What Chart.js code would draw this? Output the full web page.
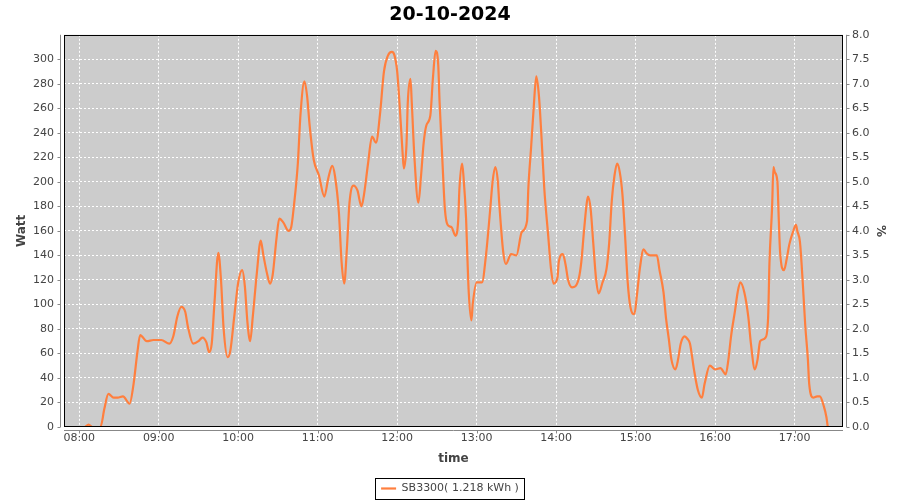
<!DOCTYPE html>
<html>
<head>
<meta charset="utf-8">
<script src="https://cdn.jsdelivr.net/npm/chart.js@4.4.1/dist/chart.umd.min.js"></script>
<style>
  html, body { margin: 0; padding: 0; background: #ffffff; }
  #wrap { width: 900px; height: 500px; }
</style>
</head>
<body>
<div id="wrap"><canvas id="c" width="900" height="500"></canvas></div>
<script>
const chartTitle = '20-10-2024';
const seriesLabel = 'SB3300( 1.218 kWh )';

const times = [
 '08:00','08:04','08:07','08:10','08:16','08:19','08:22','08:26','08:29','08:33','08:38','08:41','08:44','08:46','08:51','08:56',
 '09:02','09:08','09:11','09:14','09:17','09:20','09:22','09:26','09:30','09:33','09:36','09:38','09:40','09:42','09:45','09:47','09:49','09:52','09:54','09:57',
 '10:00','10:03','10:05','10:07','10:09','10:11','10:14','10:17','10:19','10:22','10:24','10:26','10:29','10:31','10:34','10:38','10:40','10:42','10:45','10:47','10:50','10:52','10:54','10:57',
 '11:01','11:05','11:08','11:11','11:13','11:16','11:18','11:20','11:22','11:24','11:27','11:30','11:33','11:35','11:38','11:41','11:44','11:47','11:50','11:53','11:56','11:58',
 '12:00','12:02','12:04','12:05','12:07','12:08','12:10','12:11','12:13','12:16','12:18','12:20','12:22','12:25','12:27','12:29','12:31','12:32','12:34','12:36','12:38','12:41','12:44','12:46','12:47','12:49','12:50','12:52','12:53','12:54','12:56','12:57',
 '13:00','13:04','13:07','13:10','13:12','13:14','13:16','13:17','13:20','13:22','13:26','13:30','13:34','13:38','13:39','13:41','13:43','13:45','13:47','13:49','13:51','13:54','13:56','13:58',
 '14:01','14:02','14:05','14:07','14:09','14:12','14:17','14:19','14:21','14:23','14:24','14:26','14:28','14:30','14:32','14:35','14:38','14:40','14:42','14:44','14:46','14:48','14:50','14:52','14:54','14:56','14:59',
 '15:01','15:03','15:06','15:08','15:11','15:16','15:18','15:21','15:23','15:25','15:27','15:30','15:32','15:34','15:37','15:39','15:41','15:44','15:47','15:50','15:52','15:56',
 '16:00','16:04','16:08','16:10','16:12','16:15','16:17','16:19','16:22','16:25','16:27','16:30','16:32','16:34','16:38','16:40','16:41','16:43','16:44','16:45','16:47','16:48','16:49','16:52','16:54','16:56','16:59',
 '17:01','17:02','17:04','17:06','17:08','17:10','17:11','17:14','17:17','17:19','17:22','17:24','17:25'
];
const watts = [
 0,0,2,0,0,15,27,24,24,25,19,35,62,75,70,71,
 71,68,74,90,98,94,82,68,70,73,69,61,68,100,142,120,80,57,62,90,
 118,128,115,85,70,90,125,152,140,124,117,124,155,170,167,160,163,180,215,255,282,270,245,218,
 205,188,203,213,205,175,135,117,145,183,197,193,180,190,215,237,232,255,290,303,306,303,
 290,260,225,211,230,265,284,265,220,183,205,232,246,254,285,307,295,265,220,178,165,163,156,168,195,215,205,170,138,110,87,100,
 118,118,140,175,200,212,200,183,143,133,141,140,159,168,195,227,260,286,270,235,195,156,130,117,
 122,135,141,133,120,114,121,135,160,182,188,178,150,122,109,118,129,150,185,205,215,208,190,156,118,98,92,
 108,128,145,142,140,140,128,110,88,72,55,47,55,68,74,72,68,47,30,24,35,50,
 47,48,43,55,74,95,110,118,110,90,68,47,55,70,73,90,134,180,212,208,200,170,143,128,137,149,160,
 165,160,151,120,83,55,35,24,25,25,17,8,0
];
const xTickLabels = ['08:00','09:00','10:00','11:00','12:00','13:00','14:00','15:00','16:00','17:00'];
const wattTicks = [0,20,40,60,80,100,120,140,160,180,200,220,240,260,280,300];
const pctTicks = [0,0.5,1,1.5,2,2.5,3,3.5,4,4.5,5,5.5,6,6.5,7,7.5,8];

const toMin = s => { const p = s.split(':'); return (+p[0]) * 60 + (+p[1]); };
const fmtMin = v => { const h = Math.floor(v / 60), m = Math.round(v - h * 60); return String(h).padStart(2, '0') + ':' + String(m).padStart(2, '0'); };

const points = times.map((t, i) => ({ x: toMin(t), y: watts[i] }));

const FONT = '"DejaVu Sans", sans-serif';
const TXT = '#444444';
const AXIS = '#888888';

const framePlugin = {
  id: 'frame',
  beforeDraw(chart) {
    const { ctx, chartArea: a } = chart;
    ctx.save();
    ctx.fillStyle = '#ffffff';
    ctx.fillRect(0, 0, chart.width, chart.height);
    ctx.fillStyle = '#cccccc';
    ctx.fillRect(a.left, a.top, a.right - a.left, a.bottom - a.top);
    ctx.restore();
  },
  afterDraw(chart) {
    const { ctx, chartArea: a } = chart;
    ctx.save();
    ctx.strokeStyle = '#000000';
    ctx.lineWidth = 1;
    ctx.strokeRect(Math.round(a.left) + 0.5, Math.round(a.top) + 0.5, Math.round(a.right - a.left) - 1, Math.round(a.bottom - a.top) - 1);
    ctx.strokeStyle = AXIS;
    const L = Math.round(a.left) - 4 + 0.5, R = Math.round(a.right) + 3 + 0.5, B = Math.round(a.bottom) + 3 + 0.5;
    ctx.beginPath();
    ctx.moveTo(L, a.top); ctx.lineTo(L, a.bottom);
    ctx.moveTo(R, a.top); ctx.lineTo(R, a.bottom);
    ctx.moveTo(a.left, B); ctx.lineTo(a.right, B);
    const sy = chart.scales.y, sy1 = chart.scales.y1, sx = chart.scales.x;
    sy.ticks.forEach(t => { const p = Math.round(sy.getPixelForValue(t.value)) + 0.5; ctx.moveTo(L - 3, p); ctx.lineTo(L, p); });
    sy1.ticks.forEach(t => { const p = Math.round(sy1.getPixelForValue(t.value)) + 0.5; ctx.moveTo(R, p); ctx.lineTo(R + 3, p); });
    sx.ticks.forEach(t => { const p = Math.round(sx.getPixelForValue(t.value)) + 0.5; ctx.moveTo(p, B); ctx.lineTo(p, B + 3); });
    ctx.stroke();
    const lg = chart.legend;
    if (lg && lg.legendHitBoxes && lg.legendHitBoxes.length) {
      const hb = lg.legendHitBoxes[0];
      const cy = hb.top + hb.height / 2;
      ctx.strokeStyle = '#000000';
      ctx.strokeRect(Math.round(hb.left - 6) + 0.5, Math.round(cy - 11) + 0.5, Math.round(hb.width + 11), 21);
    }
    ctx.restore();
  }
};

new Chart(document.getElementById('c'), {
  type: 'line',
  data: {
    datasets: [{
      label: seriesLabel,
      data: points,
      borderColor: '#ff7f3e',
      backgroundColor: '#ff7f3e',
      borderWidth: 2.2,
      pointRadius: 0,
      fill: false,
      cubicInterpolationMode: 'monotone',
      yAxisID: 'y'
    }]
  },
  options: {
    responsive: false,
    animation: false,
    layout: { padding: { top: 0, left: 0, right: 0, bottom: -4 } },
    plugins: {
      title: {
        display: true,
        text: chartTitle,
        color: '#000000',
        font: { family: FONT, size: 19, weight: 'bold' },
        padding: { top: 4, bottom: 8 }
      },
      legend: {
        display: true,
        position: 'bottom',
        labels: {
          usePointStyle: true,
          pointStyle: 'line',
          pointStyleWidth: 15,
          padding: 10,
          color: TXT,
          font: { family: FONT, size: 11 }
        }
      },
      tooltip: { enabled: false }
    },
    scales: {
      x: {
        type: 'linear',
        position: 'bottom',
        min: 468.5,
        max: 1056.5,
        afterBuildTicks: s => { s.ticks = xTickLabels.map(t => ({ value: toMin(t) })); },
        ticks: {
          callback: v => fmtMin(v),
          color: TXT,
          font: { family: FONT, size: 11 },
          padding: 5,
          maxRotation: 0,
          autoSkip: false
        },
        grid: { color: '#ffffff', lineWidth: 1, drawTicks: false },
        border: { display: false, dash: [2, 2] },
        title: {
          display: true,
          text: 'time',
          color: TXT,
          font: { family: FONT, size: 12, weight: 'bold' },
          padding: { top: 1.6, bottom: 6.8 }
        }
      },
      y: {
        type: 'linear',
        position: 'left',
        min: 0,
        max: 320,
        afterBuildTicks: s => { s.ticks = wattTicks.map(v => ({ value: v })); },
        afterFit: s => { s.width = 64; },
        ticks: {
          color: TXT,
          font: { family: FONT, size: 11 },
          padding: 10
        },
        grid: { color: '#ffffff', lineWidth: 1, drawTicks: false },
        border: { display: false, dash: [2, 2] },
        title: {
          display: true,
          text: 'Watt',
          color: TXT,
          font: { family: FONT, size: 12, weight: 'bold' },
          padding: { top: 15, bottom: 0 }
        }
      },
      y1: {
        type: 'linear',
        position: 'right',
        min: 0,
        max: 8,
        afterBuildTicks: s => { s.ticks = pctTicks.map(v => ({ value: v })); },
        afterFit: s => { s.width = 57; },
        ticks: {
          callback: v => Number(v).toFixed(1),
          color: TXT,
          font: { family: FONT, size: 11 },
          padding: 9
        },
        grid: { drawOnChartArea: false, drawTicks: false },
        border: { display: false },
        title: {
          display: true,
          text: '%',
          color: TXT,
          font: { family: FONT, size: 12, weight: 'bold' },
          padding: { top: 13, bottom: 0 }
        }
      }
    }
  },
  plugins: [framePlugin]
});
</script>
</body>
</html>
